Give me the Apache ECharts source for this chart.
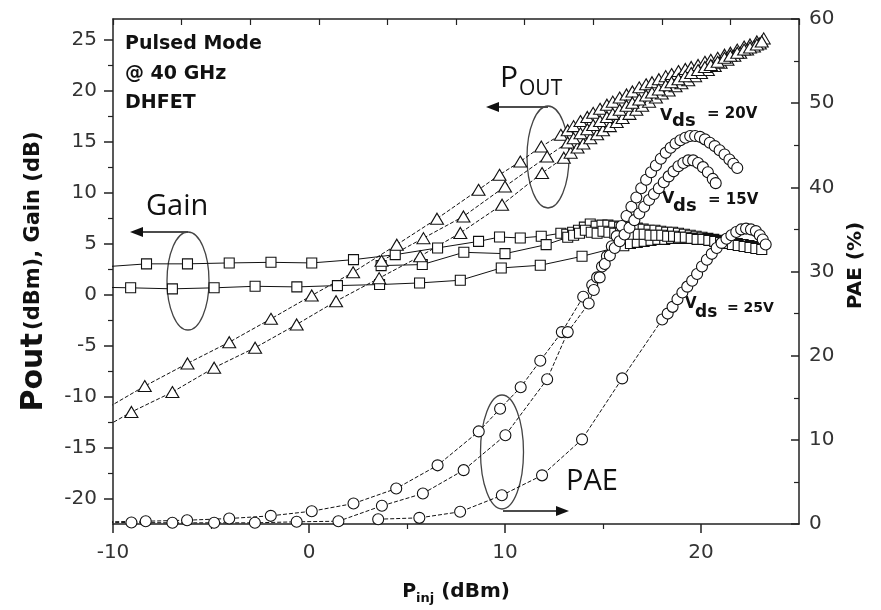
<!DOCTYPE html>
<html>
<head>
<meta charset="utf-8">
<script src="https://cdn.jsdelivr.net/npm/echarts@6/dist/echarts.min.js"></script>
<style>
  html, body { margin: 0; padding: 0; background: #fff; }
  #chart { width: 881px; height: 610px; }
</style>
</head>
<body>
<div id="chart"></div>
<script>
// ---- values (x = Pinj in dBm) ----
// output power, triangles
const pinPout1 = [-10.45, -8.38, -6.2, -4.07, -1.94, 0.14, 2.25, 4.48, 6.53, 8.65, 9.72, 10.78, 11.85, 12.85, 13.2, 13.5, 13.85, 14.2, 14.5, 14.85, 15.2, 15.5, 15.85, 16.2, 16.5, 16.85, 17.2, 17.5, 17.85, 18.2, 18.5, 18.85, 19.2, 19.5, 19.85, 20.2, 20.5, 20.85, 21.2, 21.5, 21.85, 22.2, 22.5, 22.85, 23.2]
const pout1 = [-11.3, -8.98, -6.76, -4.68, -2.39, -0.1, 2.17, 4.88, 7.43, 10.26, 11.73, 13.03, 14.5, 15.65, 16.1, 16.5, 17.0, 17.4, 17.8, 18.2, 18.6, 18.9, 19.3, 19.6, 19.9, 20.3, 20.6, 20.8, 21.1, 21.4, 21.6, 21.9, 22.1, 22.3, 22.5, 22.8, 23.0, 23.2, 23.5, 23.7, 24.0, 24.3, 24.5, 24.8, 25.1]
const pinPout2 = [-10.5, -9.06, -6.97, -4.84, -2.75, -0.63, 1.38, 3.58, 5.67, 7.72, 9.85, 11.89, 13.0, 13.35, 13.7, 14.0, 14.35, 14.7, 15.0, 15.35, 15.7, 16.0, 16.35, 16.7, 17.0, 17.35, 17.7, 18.0, 18.35, 18.7, 19.0, 19.35, 19.7, 20.0, 20.35, 20.7, 21.0, 21.35, 21.7, 22.0, 22.35, 22.7, 23.0]
const pout2 = [-13.1, -11.52, -9.57, -7.18, -5.22, -2.94, -0.66, 1.6, 3.74, 6.03, 8.8, 11.9, 13.4, 13.9, 14.4, 14.8, 15.3, 15.7, 16.1, 16.5, 16.9, 17.3, 17.7, 18.1, 18.5, 18.9, 19.3, 19.7, 20.0, 20.4, 20.7, 21.0, 21.4, 21.7, 22.0, 22.4, 22.7, 23.0, 23.4, 23.7, 24.0, 24.3, 24.6]
const pinPout3 = [3.7, 5.84, 7.88, 10.0, 12.15, 13.2, 13.5, 13.85, 14.2, 14.5, 14.85, 15.2, 15.5, 15.85, 16.2, 16.5, 16.85, 17.2, 17.5, 17.85, 18.2, 18.5, 18.85, 19.2, 19.5, 19.85, 20.2, 20.5, 20.85, 21.2, 21.5, 21.85, 22.2, 22.5, 22.85, 23.1]
const pout3 = [3.3, 5.52, 7.65, 10.58, 13.52, 14.9, 15.3, 15.8, 16.2, 16.6, 17.0, 17.4, 17.7, 18.1, 18.5, 18.8, 19.1, 19.5, 19.8, 20.1, 20.5, 20.8, 21.1, 21.4, 21.7, 22.0, 22.3, 22.5, 22.8, 23.2, 23.4, 23.7, 24.0, 24.2, 24.5, 24.8]

// gain, squares
const pinGain1 = [-10.5, -8.29, -6.2, -4.07, -1.94, 0.14, 2.27, 4.4, 6.56, 8.65, 9.72, 10.78, 11.85, 12.85, 13.15, 13.45, 13.75, 14.05, 14.35, 14.65, 14.95, 15.25, 15.55, 15.85, 16.15, 16.45, 16.75, 17.05, 17.35, 17.65, 17.95, 18.25, 18.55, 18.85, 19.15, 19.45, 19.75, 20.05, 20.35, 20.65, 20.95, 21.25, 21.55, 21.85, 22.15, 22.45, 22.75, 23.05]
const gain1 = [2.7, 3.0, 3.0, 3.09, 3.15, 3.09, 3.41, 3.9, 4.56, 5.2, 5.63, 5.54, 5.7, 6.0, 5.9, 6.1, 6.3, 6.6, 6.9, 6.7, 6.8, 6.8, 6.7, 6.6, 6.6, 6.5, 6.5, 6.4, 6.3, 6.3, 6.2, 6.1, 6.1, 6.0, 5.9, 5.8, 5.7, 5.6, 5.5, 5.4, 5.3, 5.2, 5.1, 5.0, 4.9, 4.8, 4.7, 4.6]
const pinGain2 = [-10.5, -9.1, -6.97, -4.84, -2.75, -0.62, 1.45, 3.6, 5.64, 7.72, 9.81, 11.8, 13.93, 16.06, 16.4, 16.75, 17.1, 17.45, 17.8, 18.15, 18.5, 18.85, 19.2, 19.55, 19.9, 20.25, 20.6, 20.95, 21.3, 21.65, 22.0, 22.35, 22.7, 23.0]
const gain2 = [0.7, 0.65, 0.55, 0.65, 0.8, 0.74, 0.87, 0.97, 1.13, 1.39, 2.6, 2.86, 3.74, 4.78, 5.0, 5.1, 5.2, 5.3, 5.4, 5.4, 5.5, 5.5, 5.5, 5.5, 5.4, 5.4, 5.3, 5.2, 5.1, 5.0, 4.9, 4.7, 4.6, 4.5]
const pinGain3 = [3.68, 5.78, 7.9, 10.0, 12.1, 13.2, 13.5, 13.8, 14.1, 14.4, 14.7, 15.0, 15.3, 15.6, 15.9, 16.2, 16.5, 16.8, 17.1, 17.4, 17.7, 18.0, 18.3, 18.6, 18.9, 19.2, 19.5, 19.8, 20.1, 20.4, 20.7, 21.0, 21.3, 21.6, 21.9, 22.2, 22.5, 22.8, 23.1]
const gain3 = [2.83, 2.93, 4.13, 4.0, 4.88, 5.6, 5.8, 6.0, 6.3, 6.1, 6.0, 6.2, 6.1, 6.0, 6.1, 6.0, 5.9, 5.9, 5.9, 5.8, 5.8, 5.8, 5.7, 5.7, 5.6, 5.6, 5.5, 5.4, 5.4, 5.3, 5.2, 5.1, 5.0, 4.9, 4.8, 4.7, 4.6, 4.5, 4.4]

// PAE (%), circles, right axis
const pinPae20 = [-10.5, -8.33, -6.22, -4.07, -1.95, 0.14, 2.27, 4.45, 6.56, 8.66, 9.75, 10.8, 11.8, 12.9, 13.99, 14.45, 14.7, 14.95, 15.2, 15.45, 15.7, 15.95, 16.2, 16.45, 16.7, 16.95, 17.2, 17.45, 17.7, 17.95, 18.2, 18.45, 18.7, 18.95, 19.2, 19.45, 19.7, 19.95, 20.2, 20.45, 20.7, 20.95, 21.2, 21.45, 21.65, 21.85]
const pae20 = [0.25, 0.33, 0.45, 0.65, 0.97, 1.52, 2.43, 4.21, 6.97, 11.0, 13.7, 16.25, 19.4, 22.8, 27.0, 28.4, 29.3, 30.6, 31.8, 33.0, 34.2, 35.4, 36.6, 37.7, 38.8, 39.9, 40.9, 41.8, 42.6, 43.4, 44.1, 44.7, 45.2, 45.6, 45.9, 46.1, 46.1, 46.0, 45.7, 45.3, 44.9, 44.4, 43.9, 43.3, 42.8, 42.3]
const pinPae15 = [-10.5, -9.06, -6.97, -4.84, -2.76, -0.63, 1.5, 3.72, 5.81, 7.89, 10.02, 12.15, 13.2, 14.27, 14.53, 14.83, 15.09, 15.35, 15.6, 15.85, 16.1, 16.35, 16.6, 16.85, 17.1, 17.35, 17.6, 17.85, 18.1, 18.35, 18.6, 18.85, 19.1, 19.35, 19.6, 19.85, 20.1, 20.35, 20.6, 20.75]
const pae15 = [0.15, 0.18, 0.14, 0.14, 0.14, 0.26, 0.33, 2.16, 3.62, 6.4, 10.55, 17.2, 22.8, 26.2, 27.8, 29.3, 30.9, 31.9, 32.8, 33.6, 34.4, 35.2, 36.1, 36.9, 37.7, 38.5, 39.2, 39.9, 40.6, 41.3, 41.9, 42.5, 42.9, 43.2, 43.2, 42.9, 42.4, 41.8, 41.0, 40.5]
const pinPae25 = [3.53, 5.63, 7.71, 9.84, 11.89, 13.93, 15.98, 18.02, 18.3, 18.55, 18.8, 19.05, 19.3, 19.55, 19.8, 20.05, 20.3, 20.55, 20.8, 21.05, 21.3, 21.55, 21.8, 22.05, 22.3, 22.55, 22.8, 23.0, 23.15, 23.3]
const pae25 = [0.57, 0.73, 1.45, 3.41, 5.78, 10.05, 17.3, 24.3, 25.0, 25.8, 26.7, 27.5, 28.2, 28.9, 29.7, 30.6, 31.4, 32.1, 32.8, 33.4, 33.9, 34.3, 34.7, 35.0, 35.1, 35.0, 34.8, 34.3, 33.8, 33.2]

// axis ticks
const xLabels = [-10, 0, 10, 20]
const xMinor = [-5, 5, 15]
const yLeftLabels = [-20, -15, -10, -5, 0, 5, 10, 15, 20, 25]
const yLeftMinor = [-17.5, -12.5, -7.5, -2.5, 2.5, 7.5, 12.5, 17.5, 22.5]

const X_MIN = -10
const X_MAX = 25

const chart = echarts.init(document.getElementById('chart'))

// points left of the axis only carry the line up to the frame
const pts = (xs, ys) =>
  xs.map((x, i) => (x < X_MIN ? { value: [x, ys[i]], symbol: 'none' } : [x, ys[i]]))

const makeSeries = (name, data, symbol, size, yIdx, dashed) => ({
  type: 'line',
  name,
  data,
  xAxisIndex: 0,
  yAxisIndex: yIdx,
  symbol,
  symbolSize: size,
  showAllSymbol: true,
  clip: true,
  itemStyle: { color: '#fff', borderColor: '#111', borderWidth: 1.1 },
  lineStyle: { color: '#111', width: 1, type: dashed ? [4, 2] : 'solid' },
  emphasis: { disabled: true }
})

const dv = 'DejaVu Sans, sans-serif'
const os = 'Open Sans, sans-serif'
const bold = 'bold'
const tickFont = { fontFamily: dv, fontSize: 20, color: '#333' }
const axisLine = { show: true, onZero: false, lineStyle: { color: '#222', width: 1.5 } }
const noLine = { show: false, onZero: false }

const txt = (x, y, text, size, weight, family) => ({
  type: 'text',
  x,
  y,
  style: {
    text,
    fontSize: size,
    fontWeight: weight || 'normal',
    fontFamily: family || dv,
    fill: '#111',
    verticalAlign: 'middle'
  }
})
const ring = (cx, cy, rx, ry) => ({
  type: 'ellipse',
  shape: { cx, cy, rx, ry },
  style: { fill: 'none', stroke: '#444', lineWidth: 1.3 }
})
const arrow = (x1, x2, y) => {
  const dir = x2 > x1 ? 1 : -1
  return [
    { type: 'line', shape: { x1, y1: y, x2: x2 - dir * 10, y2: y }, style: { stroke: '#111', lineWidth: 1.5 } },
    {
      type: 'polygon',
      shape: { points: [[x2, y], [x2 - dir * 13, y - 5], [x2 - dir * 13, y + 5]] },
      style: { fill: '#111' }
    }
  ]
}

const options = {
  animation: false,
  backgroundColor: '#fff',
  grid: { left: 113, right: 82, top: 19, bottom: 85 },
  xAxis: [
    {
      type: 'value',
      min: X_MIN,
      max: X_MAX,
      position: 'bottom',
      axisLine,
      axisTick: { customValues: xLabels, length: 9, lineStyle: { color: '#222', width: 1.5 } },
      axisLabel: { customValues: xLabels, margin: 19, ...tickFont },
      splitLine: { show: false },
      name: '{p|P}{s|inj}{t| (dBm)}',
      nameLocation: 'middle',
      nameGap: 55,
      nameTextStyle: {
        rich: {
          p: { fontFamily: dv, fontWeight: bold, fontSize: 19, lineHeight: 26, verticalAlign: 'middle', color: '#111' },
          s: { fontFamily: dv, fontWeight: bold, fontSize: 13, lineHeight: 14, verticalAlign: 'bottom', color: '#111' },
          t: { fontFamily: dv, fontWeight: bold, fontSize: 20, lineHeight: 26, verticalAlign: 'middle', color: '#111' }
        }
      }
    },
    {
      // top frame: ten evenly spaced inward ticks, no labels
      type: 'value',
      min: 0,
      max: 10,
      interval: 1,
      position: 'top',
      axisLine,
      axisTick: { inside: true, length: 6, lineStyle: { color: '#222', width: 1.2 } },
      axisLabel: { show: false },
      splitLine: { show: false }
    },
    {
      // minor ticks of the bottom axis
      type: 'value',
      min: X_MIN,
      max: X_MAX,
      position: 'bottom',
      axisLine: noLine,
      axisTick: { customValues: xMinor, length: 5, lineStyle: { color: '#222', width: 1.2 } },
      axisLabel: { show: false },
      splitLine: { show: false }
    }
  ],
  yAxis: [
    {
      type: 'value',
      min: -22.5,
      max: 27,
      position: 'left',
      axisLine,
      axisTick: { customValues: yLeftLabels, length: 9, lineStyle: { color: '#222', width: 1.5 } },
      axisLabel: { customValues: yLeftLabels, margin: 16, ...tickFont },
      splitLine: { show: false },
      name: '{a|Pout} {b|(dBm), Gain (dB)}',
      nameLocation: 'middle',
      nameRotate: 90,
      nameGap: 64,
      nameTextStyle: {
        rich: {
          a: { fontFamily: dv, fontWeight: bold, fontSize: 30, color: '#111' },
          b: { fontFamily: dv, fontWeight: bold, fontSize: 21, color: '#111' }
        }
      }
    },
    {
      type: 'value',
      min: 0,
      max: 60,
      interval: 10,
      position: 'right',
      axisLine,
      axisTick: { inside: true, length: 8, lineStyle: { color: '#222', width: 1.5 } },
      minorTick: { show: true, splitNumber: 2, length: 5, lineStyle: { color: '#222', width: 1.2 } },
      axisLabel: { margin: 10, ...tickFont },
      splitLine: { show: false },
      name: 'PAE (%)',
      nameLocation: 'middle',
      nameRotate: 90,
      nameGap: 38,
      nameTextStyle: { fontFamily: dv, fontWeight: bold, fontSize: 20, color: '#111', padding: [0, 0, 0, 12] }
    },
    {
      // minor ticks of the left axis
      type: 'value',
      min: -22.5,
      max: 27,
      position: 'left',
      axisLine: noLine,
      axisTick: { customValues: yLeftMinor, length: 5, lineStyle: { color: '#222', width: 1.2 } },
      axisLabel: { show: false },
      splitLine: { show: false }
    }
  ],
  series: [
    makeSeries('Gain A', pts(pinGain1, gain1), 'rect', [10, 10], 0, false),
    makeSeries('Gain B', pts(pinGain2, gain2), 'rect', [10, 10], 0, false),
    makeSeries('Gain C', pts(pinGain3, gain3), 'rect', [10, 10], 0, false),
    makeSeries('Pout A', pts(pinPout1, pout1), 'triangle', [13, 11], 0, true),
    makeSeries('Pout B', pts(pinPout2, pout2), 'triangle', [13, 11], 0, true),
    makeSeries('Pout C', pts(pinPout3, pout3), 'triangle', [13, 11], 0, true),
    makeSeries('PAE 20V', pts(pinPae20, pae20), 'circle', 11, 1, true),
    makeSeries('PAE 15V', pts(pinPae15, pae15), 'circle', 11, 1, true),
    makeSeries('PAE 25V', pts(pinPae25, pae25), 'circle', 11, 1, true)
  ],
  graphic: [
    // conditions
    txt(125, 44, 'Pulsed Mode', 19, bold),
    txt(125, 74, '@ 40 GHz', 19, bold),
    txt(125, 103, 'DHFET', 19, bold),
    // Gain callout
    txt(146, 207, 'Gain', 29, 'normal', os),
    ...arrow(188, 130, 232),
    ring(188, 281, 21, 49),
    // Pout callout
    txt(500, 78, 'P', 30, 'normal', os),
    txt(519, 89, 'OUT', 21, 'normal', os),
    ...arrow(548, 486, 107),
    ring(548, 157, 21, 51),
    // PAE callout
    txt(566, 482, 'PAE', 29, 'normal', os),
    ...arrow(503, 569, 511),
    ring(502, 452, 21.5, 57),
    // drain voltages
    txt(660, 116, 'V', 16, bold),
    txt(672, 121, 'ds', 18, bold),
    txt(707, 114, '= 20V', 15, bold),
    txt(662, 199, 'V', 16, bold),
    txt(673, 206, 'ds', 18, bold),
    txt(708, 200, '= 15V', 15, bold),
    txt(685, 304, 'V', 15, bold),
    txt(695, 313, 'ds', 17, bold),
    txt(727, 308, '= 25V', 14, bold)
  ]
}

chart.setOption(options)
</script>
</body>
</html>
